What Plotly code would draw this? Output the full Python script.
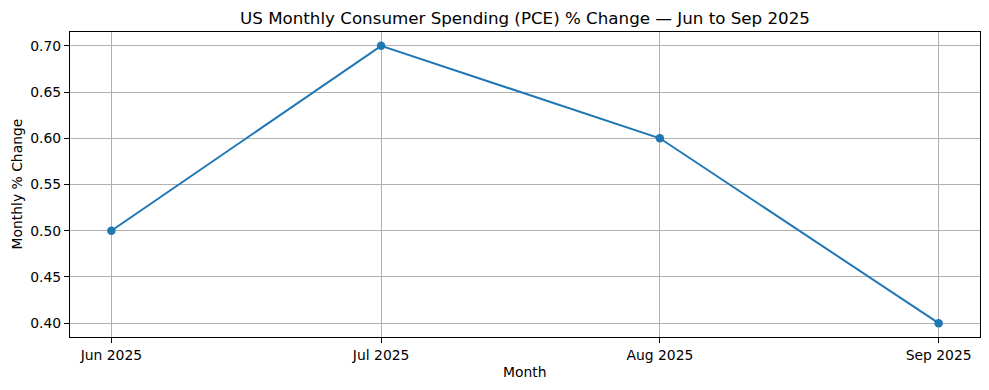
import plotly.graph_objects as go

months = ["2025-06-01", "2025-07-01", "2025-08-01", "2025-09-01"]
tick_labels = ["Jun 2025", "Jul 2025", "Aug 2025", "Sep 2025"]
pce_change = [0.5, 0.7, 0.6, 0.4]
y_ticks = [0.40, 0.45, 0.50, 0.55, 0.60, 0.65, 0.70]

font = "DejaVu Sans"
FS = 13.9
W, H = 981, 382  # page body has an 8px margin
fig = go.Figure()
fig.add_trace(go.Scatter(
    x=months, y=pce_change, mode="lines+markers",
    line=dict(color="#1f77b4", width=2),
    marker=dict(color="#1f77b4", size=8.5),
    showlegend=False,
))
fig.update_layout(
    width=W, height=H,
    margin=dict(l=62, r=9, t=24, b=53),
    plot_bgcolor="white", paper_bgcolor="white",
    font=dict(family=font, size=FS, color="black"),
    title=dict(text="US Monthly Consumer Spending (PCE) % Change — Jun to Sep 2025",
               x=0.5, xref="paper", y=1 - 10 / H, yref="container",
               xanchor="center", yanchor="middle",
               font=dict(family=font, size=16.7, color="black")),
)
fig.update_xaxes(
    type="date", range=["2025-05-27 09:36", "2025-09-05 14:24"],
    tickvals=months, ticktext=tick_labels,
    showgrid=True, gridcolor="#b0b0b0", gridwidth=1,
    showline=True, linecolor="black", linewidth=1, mirror=True,
    ticks="outside", ticklen=5, tickcolor="black",
    tickfont=dict(family=font, size=FS, color="black"),
    zeroline=False,
)
fig.update_yaxes(
    range=[0.385, 0.715], tickvals=y_ticks,
    ticktext=[f"{v:.2f}" for v in y_ticks],
    showgrid=True, gridcolor="#b0b0b0", gridwidth=1,
    showline=True, linecolor="black", linewidth=1, mirror=True,
    ticks="outside", ticklen=5, tickcolor="black",
    tickfont=dict(family=font, size=FS, color="black"),
    zeroline=False,
)
fig.add_annotation(text="Month", xref="paper", yref="paper", x=0.5,
                   y=-(372 - 337) / 305, xanchor="center", yanchor="middle",
                   showarrow=False, font=dict(family=font, size=FS, color="black"))
fig.add_annotation(text="Monthly % Change", xref="paper", yref="paper",
                   x=-(70 - 16) / 910, y=0.5, xanchor="center", yanchor="middle",
                   textangle=-90, showarrow=False,
                   font=dict(family=font, size=FS, color="black"))
fig.write_html("out.html")
